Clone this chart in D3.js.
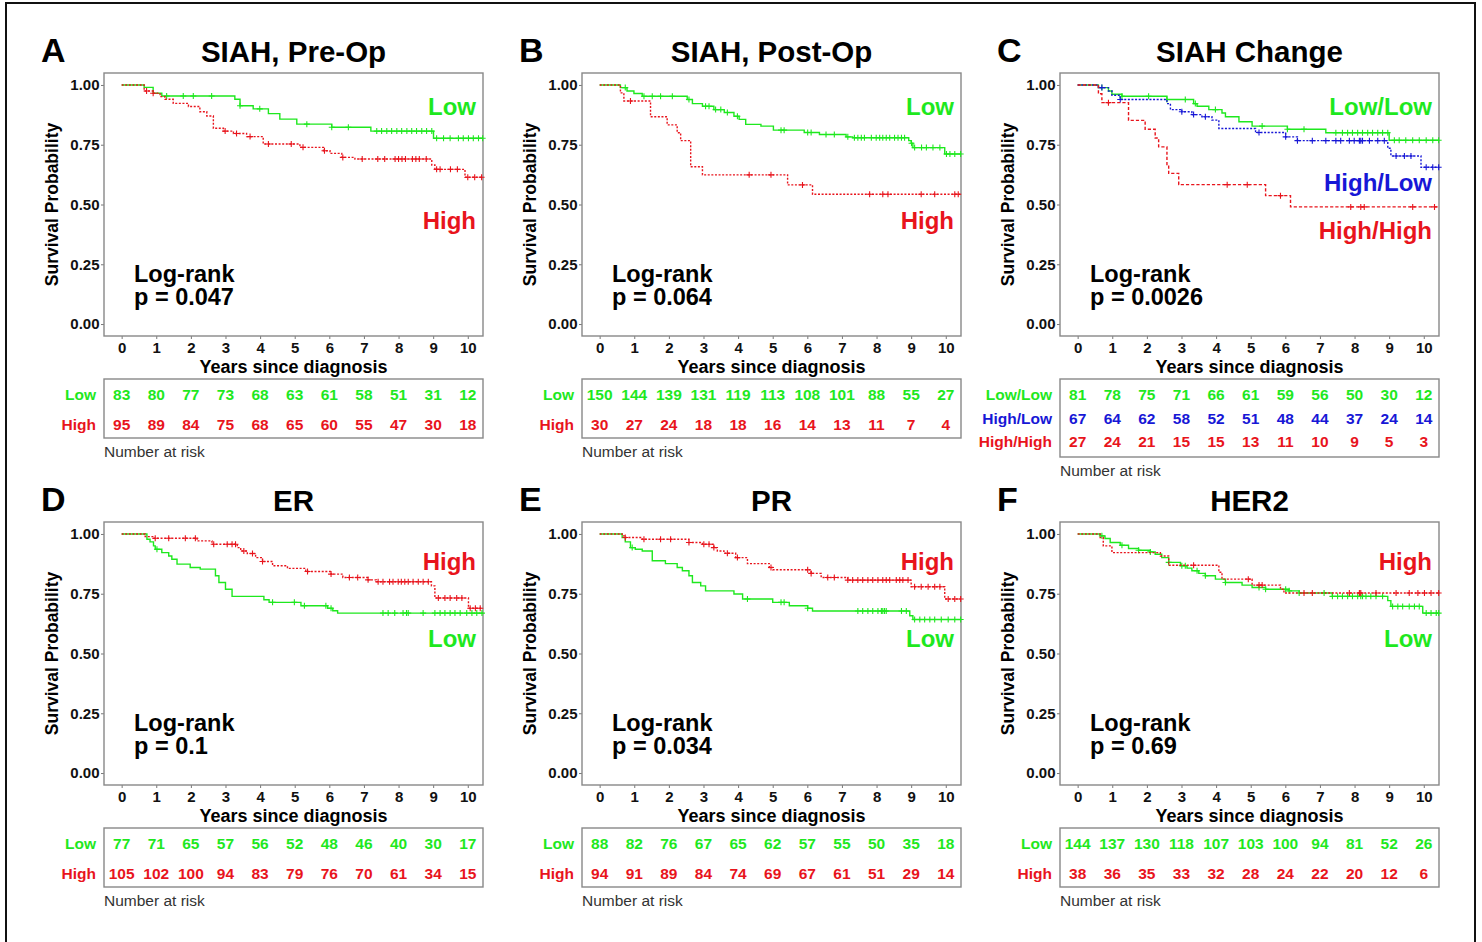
<!DOCTYPE html>
<html>
<head>
<meta charset="utf-8">
<script src="https://cdn.jsdelivr.net/npm/d3@7"></script>
<style>
body { margin: 0; background: #fff; }
text { font-family: "Liberation Sans", Arial, Helvetica, sans-serif; }
</style>
</head>
<body>
<div id="chart"></div>
<script>
// ---- data: steps are [years, survival], cens = censor times ----
var years = [0, 1, 2, 3, 4, 5, 6, 7, 8, 9, 10];
var yTicks = [0, 0.25, 0.5, 0.75, 1];
var maxTime = 10.44;

// A  SIAH, Pre-Op
var aLowSteps = [[0.65,0.99],[0.91,0.965],[1.16,0.954],[3.27,0.94],[3.42,0.913],[3.8,0.9],[4.24,0.88],[4.57,0.857],[5.06,0.836],[6.07,0.823],[7.2,0.807],[9.01,0.777]];
var aLowCens = [1.3,1.78,2.07,2.6,3.42,3.99,5.35,6.07,6.55,7.37,7.51,7.66,7.8,7.95,8.09,8.24,8.38,8.52,8.67,8.81,8.96,9.1,9.3,9.49,9.73,9.87,10.02,10.16,10.31,10.43];
var aHighSteps = [[0.65,0.975],[0.91,0.965],[1.11,0.951],[1.25,0.94],[1.49,0.923],[1.93,0.91],[2.26,0.888],[2.46,0.87],[2.65,0.819],[2.94,0.807],[3.23,0.797],[3.61,0.784],[4.09,0.753],[5.15,0.739],[5.83,0.725],[6.02,0.714],[6.36,0.697],[6.74,0.69],[8.96,0.665],[9.05,0.647],[9.92,0.614]];
var aHighCens = [0.72,0.91,2.99,3.32,3.71,4.24,4.9,5.24,5.86,6.39,6.95,7.4,7.6,7.9,8.0,8.1,8.2,8.4,8.5,8.6,8.8,9.1,9.2,9.5,9.7,10.0,10.2,10.4];
var aRiskLow = [83, 80, 77, 73, 68, 63, 61, 58, 51, 31, 12];
var aRiskHigh = [95, 89, 84, 75, 68, 65, 60, 55, 47, 30, 18];

// B  SIAH, Post-Op
var bLowSteps = [[0.6,0.989],[0.79,0.975],[0.99,0.964],[1.23,0.953],[2.53,0.939],[2.68,0.922],[2.97,0.911],[3.3,0.897],[3.6,0.885],[3.88,0.869],[4.03,0.856],[4.22,0.835],[4.66,0.828],[5.02,0.811],[5.91,0.801],[6.35,0.793],[7.12,0.783],[7.31,0.779],[8.93,0.767],[9.0,0.756],[9.05,0.738],[9.97,0.711]];
var bLowCens = [0.74,1.28,1.52,1.76,2.1,2.58,3.06,3.16,3.35,3.5,3.69,3.98,5.24,5.33,6.01,6.11,6.54,6.78,7.17,7.36,7.46,7.56,7.65,7.85,7.99,8.09,8.18,8.28,8.38,8.52,8.62,8.72,8.81,9.01,9.1,9.3,9.44,9.63,9.83,10.02,10.12,10.26,10.43];
var bHighSteps = [[0.6,0.967],[0.7,0.933],[1.47,0.867],[1.95,0.833],[2.24,0.8],[2.34,0.767],[2.63,0.658],[2.97,0.624],[5.43,0.582],[6.15,0.543]];
var bHighCens = [0.89,4.32,4.95,5.86,7.8,8.18,8.33,9.29,9.68,10.26,10.36];
var bRiskLow = [150, 144, 139, 131, 119, 113, 108, 101, 88, 55, 27];
var bRiskHigh = [30, 27, 24, 18, 18, 16, 14, 13, 11, 7, 4];

// C  SIAH Change
var cLowLowSteps = [[0.6,0.989],[0.89,0.975],[0.99,0.961],[1.28,0.953],[2.58,0.939],[3.35,0.922],[3.45,0.911],[3.79,0.897],[4.17,0.883],[4.27,0.867],[4.66,0.846],[5.04,0.828],[6.06,0.815],[7.17,0.8],[9.0,0.769]];
var cLowLowCens = [0.7,1.28,2.05,2.58,3.11,3.4,3.98,5.33,6.06,6.54,7.46,7.65,7.8,7.94,8.09,8.23,8.38,8.52,8.67,8.81,8.96,9.15,9.29,9.48,9.68,9.87,10.07,10.26,10.43];
var cHighLowSteps = [[0.6,0.989],[0.89,0.975],[0.99,0.957],[1.23,0.939],[2.58,0.922],[2.68,0.897],[3.01,0.888],[3.3,0.876],[3.59,0.867],[3.88,0.853],[4.08,0.818],[5.14,0.801],[6.01,0.783],[6.35,0.767],[8.96,0.735],[9.05,0.703],[9.92,0.656]];
var cHighLowCens = [0.7,1.23,3.01,3.35,3.69,5.24,6.01,6.35,6.78,7.17,7.46,7.6,7.85,7.99,8.14,8.18,8.23,8.43,8.67,8.86,9.2,9.44,9.63,10.07,10.26,10.43];
var cHighHighSteps = [[0.6,0.963],[0.7,0.926],[1.47,0.852],[1.95,0.815],[2.24,0.778],[2.34,0.741],[2.58,0.667],[2.63,0.63],[2.92,0.583],[5.43,0.537],[6.15,0.49]];
var cHighHighCens = [0.89,4.32,4.9,5.86,7.89,8.18,8.28,9.68,10.31];
var cRiskLowLow = [81, 78, 75, 71, 66, 61, 59, 56, 50, 30, 12];
var cRiskHighLow = [67, 64, 62, 58, 52, 51, 48, 44, 37, 24, 14];
var cRiskHighHigh = [27, 24, 21, 15, 15, 13, 11, 10, 9, 5, 3];

// D  ER
var dLowSteps = [[0.73,0.978],[0.82,0.967],[0.92,0.95],[0.97,0.936],[1.16,0.922],[1.36,0.908],[1.45,0.894],[1.6,0.874],[1.98,0.86],[2.27,0.853],[2.71,0.825],[2.81,0.797],[3.0,0.769],[3.19,0.739],[4.11,0.725],[4.26,0.714],[5.18,0.7],[5.95,0.689],[6.1,0.679],[6.24,0.669]];
var dLowCens = [1.02,4.36,4.99,5.28,5.9,6.05,7.55,7.7,7.89,8.13,8.23,8.28,8.71,9.05,9.2,9.34,9.49,9.63,9.78,9.97,10.12,10.26,10.41];
var dHighSteps = [[0.68,0.989],[0.92,0.982],[2.18,0.971],[2.61,0.957],[3.34,0.943],[3.44,0.929],[3.63,0.918],[3.87,0.901],[4.07,0.885],[4.36,0.867],[4.79,0.856],[5.32,0.843],[6.05,0.832],[6.39,0.818],[7.12,0.808],[7.36,0.8],[8.95,0.783],[9.05,0.732],[10.02,0.689]];
var dHighCens = [0.97,1.36,1.84,2.13,2.66,3.05,3.19,3.29,3.53,3.78,4.07,5.37,6.05,6.58,6.82,7.12,7.41,7.55,7.74,7.84,7.99,8.08,8.18,8.28,8.42,8.57,8.71,8.86,9.15,9.34,9.49,9.68,9.83,10.07,10.22,10.36];
var dRiskLow = [77, 71, 65, 57, 56, 52, 48, 46, 40, 30, 17];
var dRiskHigh = [105, 102, 100, 94, 83, 79, 76, 70, 61, 34, 15];

// E  PR
var eLowSteps = [[0.65,0.985],[0.74,0.967],[0.89,0.943],[1.03,0.936],[1.23,0.929],[1.52,0.888],[1.9,0.876],[2.24,0.86],[2.39,0.846],[2.58,0.825],[2.68,0.797],[2.92,0.783],[3.06,0.762],[3.88,0.749],[4.13,0.728],[5.0,0.714],[5.48,0.7],[6.01,0.689],[6.15,0.678],[8.96,0.658],[9.05,0.642]];
var eLowCens = [0.94,4.27,5.24,5.33,6.01,7.46,7.6,7.75,7.89,8.04,8.14,8.18,8.23,8.28,8.72,8.86,9.1,9.25,9.39,9.54,9.68,9.87,10.07,10.26,10.43];
var eHighSteps = [[0.65,0.992],[0.74,0.985],[1.23,0.978],[2.58,0.964],[2.97,0.957],[3.3,0.943],[3.4,0.929],[3.59,0.919],[3.93,0.901],[4.27,0.876],[4.9,0.86],[5.0,0.85],[6.11,0.835],[6.4,0.818],[7.17,0.807],[9.0,0.779],[9.97,0.728]];
var eHighCens = [0.74,1.28,1.76,2.05,2.58,3.01,3.16,3.3,3.69,3.98,4.95,6.01,6.11,6.59,6.78,7.17,7.31,7.46,7.6,7.75,7.89,8.04,8.18,8.28,8.38,8.57,8.67,8.76,8.91,9.1,9.29,9.49,9.68,9.83,10.07,10.26,10.43];
var eRiskLow = [88, 82, 76, 67, 65, 62, 57, 55, 50, 35, 18];
var eRiskHigh = [94, 91, 89, 84, 74, 69, 67, 61, 51, 29, 14];

// F  HER2
var fLowSteps = [[0.65,0.992],[0.79,0.981],[0.94,0.964],[1.23,0.953],[1.47,0.939],[1.76,0.932],[2.1,0.925],[2.24,0.915],[2.43,0.901],[2.63,0.881],[2.97,0.867],[3.16,0.857],[3.3,0.846],[3.5,0.835],[3.69,0.825],[3.98,0.811],[4.27,0.797],[4.75,0.786],[5.04,0.776],[5.43,0.769],[6.11,0.762],[6.4,0.753],[7.36,0.739],[8.96,0.721],[9.05,0.697],[9.97,0.669]];
var fLowCens = [0.7,1.28,1.76,2.1,2.63,3.01,3.11,3.45,3.69,4.27,5.24,5.43,6.01,6.11,6.4,7.12,7.36,7.51,7.65,7.8,7.94,8.09,8.18,8.23,8.33,8.47,8.62,8.81,9.1,9.25,9.39,9.58,9.73,9.87,10.07,10.21,10.36,10.43];
var fHighSteps = [[0.65,0.985],[0.74,0.95],[0.99,0.922],[2.39,0.908],[2.63,0.869],[4.08,0.84],[4.17,0.811],[5.04,0.786],[5.86,0.769],[5.96,0.753]];
var fHighCens = [3.35,4.93,5.24,5.33,6.54,6.78,7.85,8.14,8.18,8.62,9.2,9.58,9.83,10.02,10.21,10.43];
var fRiskLow = [144, 137, 130, 118, 107, 103, 100, 94, 81, 52, 26];
var fRiskHigh = [38, 36, 35, 33, 32, 28, 24, 22, 20, 12, 6];

var GREEN = "#1ee81e", RED = "#e8141c", BLUE = "#1717d6";

var panels = [
    { letter: "A", title: "SIAH, Pre-Op", p: "p = 0.047", curves: [
        { name: "Low", steps: aLowSteps, cens: aLowCens, risk: aRiskLow, color: GREEN, dash: null, ly: 115 },
        { name: "High", steps: aHighSteps, cens: aHighCens, risk: aRiskHigh, color: RED, dash: "2,1.6", ly: 229 }] },
    { letter: "B", title: "SIAH, Post-Op", p: "p = 0.064", curves: [
        { name: "Low", steps: bLowSteps, cens: bLowCens, risk: bRiskLow, color: GREEN, dash: null, ly: 115 },
        { name: "High", steps: bHighSteps, cens: bHighCens, risk: bRiskHigh, color: RED, dash: "2,1.6", ly: 229 }] },
    { letter: "C", title: "SIAH Change", p: "p = 0.0026", curves: [
        { name: "Low/Low", steps: cLowLowSteps, cens: cLowLowCens, risk: cRiskLowLow, color: GREEN, dash: null, ly: 115 },
        { name: "High/Low", steps: cHighLowSteps, cens: cHighLowCens, risk: cRiskHighLow, color: BLUE, dash: "2,1.6", ly: 191 },
        { name: "High/High", steps: cHighHighSteps, cens: cHighHighCens, risk: cRiskHighHigh, color: RED, dash: "3.2,2", ly: 239 }] },
    { letter: "D", title: "ER", p: "p = 0.1", curves: [
        { name: "Low", steps: dLowSteps, cens: dLowCens, risk: dRiskLow, color: GREEN, dash: null, ly: 198 },
        { name: "High", steps: dHighSteps, cens: dHighCens, risk: dRiskHigh, color: RED, dash: "2,1.6", ly: 121 }] },
    { letter: "E", title: "PR", p: "p = 0.034", curves: [
        { name: "Low", steps: eLowSteps, cens: eLowCens, risk: eRiskLow, color: GREEN, dash: null, ly: 198 },
        { name: "High", steps: eHighSteps, cens: eHighCens, risk: eRiskHigh, color: RED, dash: "2,1.6", ly: 121 }] },
    { letter: "F", title: "HER2", p: "p = 0.69", curves: [
        { name: "Low", steps: fLowSteps, cens: fLowCens, risk: fRiskLow, color: GREEN, dash: null, ly: 198 },
        { name: "High", steps: fHighSteps, cens: fHighCens, risk: fRiskHigh, color: RED, dash: "2,1.6", ly: 121 }] }
];

var width = 1482, height = 942;

var svg = d3.select("#chart")
    .append("svg")
    .attr("width", width)
    .attr("height", height);

// outer frame
svg.append("rect")
    .attr("x", 6).attr("y", 3)
    .attr("width", 1469).attr("height", 970)
    .attr("fill", "none")
    .attr("stroke", "#111")
    .attr("stroke-width", 2);

function survAt(steps, t) {
    var s = 1;
    steps.forEach(function (d) { if (d[0] <= t) s = d[1]; });
    return s;
}

var line = d3.line().curve(d3.curveStepAfter);

panels.forEach(function (p, i) {
    var ox = (i % 3) * 478, oy = Math.floor(i / 3) * 449;
    var g = svg.append("g").attr("transform", "translate(" + ox + "," + oy + ")");

    var x = d3.scaleLinear().domain([-0.51, 10.44]).range([104, 483]);
    var y = d3.scaleLinear().domain([-0.05, 1.05]).range([336, 73]);

    // panel letter + title
    g.append("text").attr("x", 41).attr("y", 62)
        .style("font-size", "34px").style("font-weight", "bold").text(p.letter);
    g.append("text").attr("x", 293.5).attr("y", 62).attr("text-anchor", "middle")
        .style("font-size", "29.5px").style("font-weight", "bold").text(p.title);

    // axes
    var xAxis = g.append("g").attr("transform", "translate(0,336)")
        .call(d3.axisBottom(x).tickValues(years).tickSize(3).tickPadding(3.5));
    var yAxis = g.append("g").attr("transform", "translate(104,0)")
        .call(d3.axisLeft(y).tickValues(yTicks).tickFormat(d3.format(".2f")).tickSize(3).tickPadding(1.5));
    [xAxis, yAxis].forEach(function (a) {
        a.select(".domain").remove();
        a.selectAll(".tick line").attr("stroke", "#777");
        a.selectAll(".tick text").attr("fill", "#111")
            .style("font-size", "15px").style("font-weight", "bold")
            .style("font-family", "'Liberation Sans', Arial, sans-serif");
    });

    // plot frame
    g.append("rect").attr("x", 104).attr("y", 73).attr("width", 379).attr("height", 263)
        .attr("fill", "none").attr("stroke", "#888").attr("stroke-width", 1.4);

    g.append("text").attr("x", 293.5).attr("y", 373).attr("text-anchor", "middle")
        .style("font-size", "18px").style("font-weight", "bold").text("Years since diagnosis");
    g.append("text").attr("transform", "translate(58,204.5)rotate(-90)").attr("text-anchor", "middle")
        .style("font-size", "17.5px").style("font-weight", "bold").text("Survival Probability");

    // curves
    var cg = g.append("g");
    p.curves.forEach(function (c) {
        var pts = [[0, 1]].concat(c.steps).concat([[maxTime, c.steps[c.steps.length - 1][1]]]);
        cg.append("path")
            .attr("d", line(pts.map(function (d) { return [x(d[0]), y(d[1])]; })))
            .attr("fill", "none")
            .attr("stroke", c.color)
            .attr("stroke-width", 1.4)
            .attr("stroke-dasharray", c.dash);
        cg.selectAll(null).data(c.cens).enter()
            .append("path")
            .attr("transform", function (t) { return "translate(" + x(t) + "," + y(survAt(c.steps, t)) + ")"; })
            .attr("d", "M-3,0H3M0,-3V3")
            .attr("stroke", c.color)
            .attr("stroke-width", 1.1);
        g.append("text").attr("x", 476).attr("y", c.ly).attr("text-anchor", "end")
            .attr("fill", c.color)
            .style("font-size", "24px").style("font-weight", "bold").text(c.name);
    });

    // log-rank annotation
    g.append("text").attr("x", 134).attr("y", 282)
        .style("font-size", "23.5px").style("font-weight", "bold").text("Log-rank");
    g.append("text").attr("x", 134).attr("y", 305)
        .style("font-size", "23.5px").style("font-weight", "bold").text(p.p);

    // number at risk table
    var n = p.curves.length;
    var rowH = n === 2 ? 30 : 23.5;
    var boxH = n === 2 ? 59 : 78;
    g.append("rect").attr("x", 104).attr("y", 379).attr("width", 379).attr("height", boxH)
        .attr("fill", "none").attr("stroke", "#888").attr("stroke-width", 1.4);
    p.curves.forEach(function (c, k) {
        var by = 400 + k * rowH;
        g.append("text").attr("x", 96).attr("y", by).attr("text-anchor", "end")
            .attr("fill", c.color).style("font-size", "15.5px").style("font-weight", "bold").text(c.name);
        g.selectAll(null).data(c.risk).enter()
            .append("text")
            .attr("x", function (d, j) { return x(years[j]); })
            .attr("y", by)
            .attr("text-anchor", "middle")
            .attr("fill", c.color)
            .style("font-size", "15.5px").style("font-weight", "bold")
            .text(function (d) { return d; });
    });
    g.append("text").attr("x", 104).attr("y", 379 + boxH + 19)
        .attr("fill", "#333").style("font-size", "15.5px").text("Number at risk");
});
</script>
</body>
</html>
